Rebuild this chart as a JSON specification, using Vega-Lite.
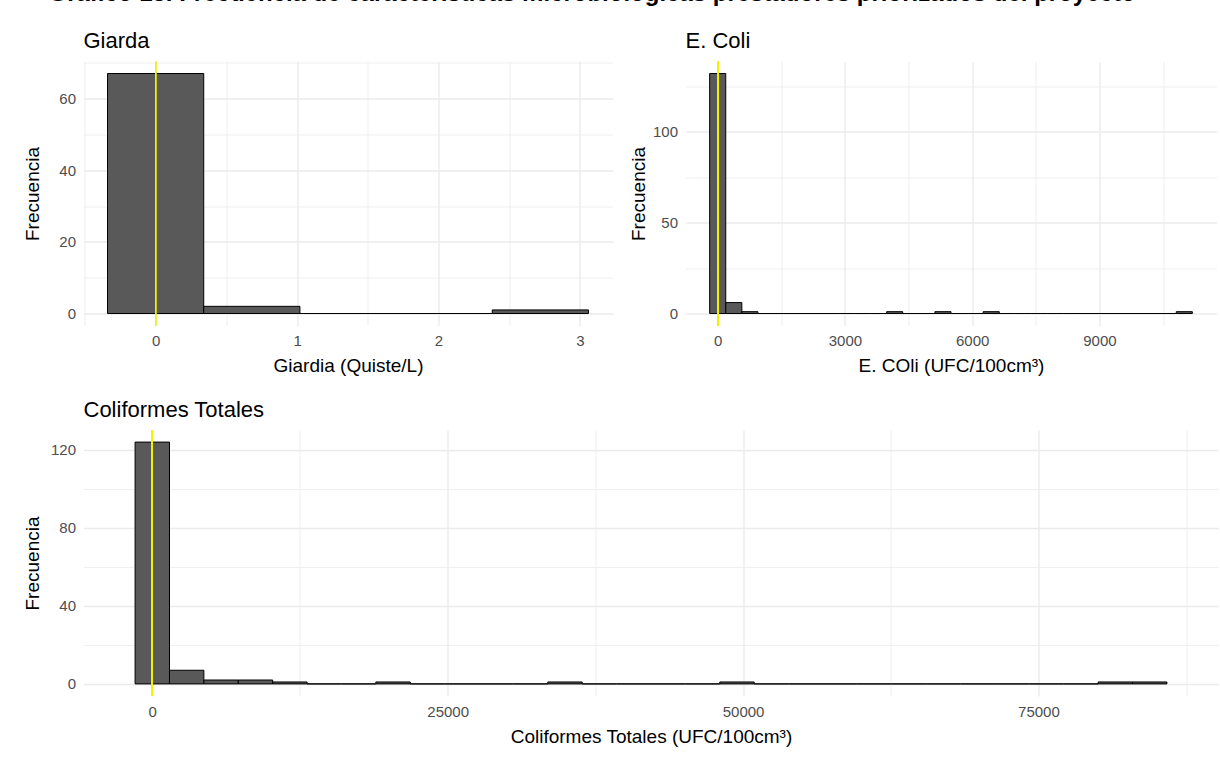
{
  "$schema": "https://vega.github.io/schema/vega-lite/v6.json",
  "background": "white",
  "padding": {"left": 23.5, "top": -18.5, "right": 2, "bottom": 2},
  "title": {"text": "Gráfico 13. Frecuencia de características microbiológicas prestadores priorizados del proyecto", "fontSize": 24, "fontWeight": "bold", "anchor": "middle", "baseline": "alphabetic", "offset": 5.5, "dx": -29, "color": "black", "frame": "bounds"},
  "config": {
    "font": "Liberation Sans",
    "view": {"stroke": null},
    "axis": {"domain": false, "ticks": false, "tickSize": 0, "labelColor": "#4D4D4D", "labelFontSize": 15, "labelPadding": 8, "titleFontSize": 19, "titleFontWeight": "normal", "titleColor": "black", "titlePadding": 8, "gridColor": "#EBEBEB", "gridWidth": 1.4},
    "title": {"anchor": "start", "fontSize": 22, "fontWeight": "normal", "baseline": "alphabetic", "offset": 7.5, "frame": "group", "color": "black"}
  },
  "spacing": 22.5,
  "vconcat": [
    {
      "spacing": 16,
      "hconcat": [
        {
          "width": 529, "height": 264,
          "title": "Giarda",
          "data": {"values": [
            {"lo": -0.34, "hi": 0.34, "n": 67},
            {"lo": 0.34, "hi": 1.02, "n": 2},
            {"lo": 1.02, "hi": 1.7, "n": 0},
            {"lo": 1.7, "hi": 2.38, "n": 0},
            {"lo": 2.38, "hi": 3.06, "n": 1}
          ]},
          "resolve": {"axis": {"x": "independent", "y": "independent"}},
          "layer": [
            {
              "mark": {"type": "rect", "fill": "#595959", "stroke": "black", "strokeWidth": 1},
              "encoding": {
                "x": {"field": "lo", "type": "quantitative", "scale": {"domain": [-0.51, 3.23], "nice": false, "zero": false}, "axis": {"values": [0, 1, 2, 3], "title": "Giardia (Quiste/L)", "grid": true}},
                "x2": {"field": "hi"},
                "y": {"field": "n", "type": "quantitative", "scale": {"domain": [-3.35, 70.35], "nice": false, "zero": false}, "axis": {"values": [0, 20, 40, 60], "title": "Frecuencia", "titleX": -41, "grid": true}},
                "y2": {"datum": 0}
              }
            },
            {
              "mark": {"type": "rule", "color": "#F2F200", "strokeWidth": 1.2},
              "encoding": {
                "x": {"datum": 0, "type": "quantitative", "axis": {"orient": "top", "values": [-0.5, 0.5, 1.5, 2.5], "labels": false, "title": null, "grid": true, "gridWidth": 0.8}}
              }
            },
            {
              "mark": {"type": "rule", "opacity": 0},
              "encoding": {
                "y": {"datum": 0, "type": "quantitative", "axis": {"orient": "right", "values": [10, 30, 50, 70], "labels": false, "title": null, "grid": true, "gridWidth": 0.8}}
              }
            }
          ]
        },
        {
          "width": 531, "height": 264,
          "title": "E. Coli",
          "data": {"values": [
            {"lo": -189.66, "hi": 189.66, "n": 132},
            {"lo": 189.66, "hi": 568.97, "n": 6},
            {"lo": 568.97, "hi": 948.28, "n": 1},
            {"lo": 948.28, "hi": 1327.59, "n": 0},
            {"lo": 1327.59, "hi": 1706.9, "n": 0},
            {"lo": 1706.9, "hi": 2086.21, "n": 0},
            {"lo": 2086.21, "hi": 2465.52, "n": 0},
            {"lo": 2465.52, "hi": 2844.83, "n": 0},
            {"lo": 2844.83, "hi": 3224.14, "n": 0},
            {"lo": 3224.14, "hi": 3603.45, "n": 0},
            {"lo": 3603.45, "hi": 3982.76, "n": 0},
            {"lo": 3982.76, "hi": 4362.07, "n": 1},
            {"lo": 4362.07, "hi": 4741.38, "n": 0},
            {"lo": 4741.38, "hi": 5120.69, "n": 0},
            {"lo": 5120.69, "hi": 5500, "n": 1},
            {"lo": 5500, "hi": 5879.31, "n": 0},
            {"lo": 5879.31, "hi": 6258.62, "n": 0},
            {"lo": 6258.62, "hi": 6637.93, "n": 1},
            {"lo": 6637.93, "hi": 7017.24, "n": 0},
            {"lo": 7017.24, "hi": 7396.55, "n": 0},
            {"lo": 7396.55, "hi": 7775.86, "n": 0},
            {"lo": 7775.86, "hi": 8155.17, "n": 0},
            {"lo": 8155.17, "hi": 8534.48, "n": 0},
            {"lo": 8534.48, "hi": 8913.79, "n": 0},
            {"lo": 8913.79, "hi": 9293.1, "n": 0},
            {"lo": 9293.1, "hi": 9672.41, "n": 0},
            {"lo": 9672.41, "hi": 10051.72, "n": 0},
            {"lo": 10051.72, "hi": 10431.03, "n": 0},
            {"lo": 10431.03, "hi": 10810.34, "n": 0},
            {"lo": 10810.34, "hi": 11189.66, "n": 1}
          ]},
          "resolve": {"axis": {"x": "independent", "y": "independent"}},
          "layer": [
            {
              "mark": {"type": "rect", "fill": "#595959", "stroke": "black", "strokeWidth": 1},
              "encoding": {
                "x": {"field": "lo", "type": "quantitative", "scale": {"domain": [-759, 11759], "nice": false, "zero": false}, "axis": {"values": [0, 3000, 6000, 9000], "format": "d", "title": "E. COli (UFC/100cm³)", "grid": true}},
                "x2": {"field": "hi"},
                "y": {"field": "n", "type": "quantitative", "scale": {"domain": [-6.6, 138.6], "nice": false, "zero": false}, "axis": {"values": [0, 50, 100], "title": "Frecuencia", "titlePadding": 4, "grid": true}},
                "y2": {"datum": 0}
              }
            },
            {
              "mark": {"type": "rule", "color": "#F2F200", "strokeWidth": 1.2},
              "encoding": {
                "x": {"datum": 0, "type": "quantitative", "axis": {"orient": "top", "values": [1500, 4500, 7500, 10500], "labels": false, "title": null, "grid": true, "gridWidth": 0.8}}
              }
            },
            {
              "mark": {"type": "rule", "opacity": 0},
              "encoding": {
                "y": {"datum": 0, "type": "quantitative", "axis": {"orient": "right", "values": [25, 75, 125], "labels": false, "title": null, "grid": true, "gridWidth": 0.8}}
              }
            }
          ]
        }
      ]
    },
    {
      "width": 1135, "height": 266,
      "title": "Coliformes Totales",
      "data": {"values": [
        {"lo": -1455.5, "hi": 1455.5, "n": 124},
        {"lo": 1455.5, "hi": 4366.5, "n": 7},
        {"lo": 4366.5, "hi": 7277.5, "n": 2},
        {"lo": 7277.5, "hi": 10188.5, "n": 2},
        {"lo": 10188.5, "hi": 13099.5, "n": 1},
        {"lo": 13099.5, "hi": 16010.5, "n": 0},
        {"lo": 16010.5, "hi": 18921.5, "n": 0},
        {"lo": 18921.5, "hi": 21832.5, "n": 1},
        {"lo": 21832.5, "hi": 24743.5, "n": 0},
        {"lo": 24743.5, "hi": 27654.5, "n": 0},
        {"lo": 27654.5, "hi": 30565.5, "n": 0},
        {"lo": 30565.5, "hi": 33476.5, "n": 0},
        {"lo": 33476.5, "hi": 36387.5, "n": 1},
        {"lo": 36387.5, "hi": 39298.5, "n": 0},
        {"lo": 39298.5, "hi": 42209.5, "n": 0},
        {"lo": 42209.5, "hi": 45120.5, "n": 0},
        {"lo": 45120.5, "hi": 48031.5, "n": 0},
        {"lo": 48031.5, "hi": 50942.5, "n": 1},
        {"lo": 50942.5, "hi": 53853.5, "n": 0},
        {"lo": 53853.5, "hi": 56764.5, "n": 0},
        {"lo": 56764.5, "hi": 59675.5, "n": 0},
        {"lo": 59675.5, "hi": 62586.5, "n": 0},
        {"lo": 62586.5, "hi": 65497.5, "n": 0},
        {"lo": 65497.5, "hi": 68408.5, "n": 0},
        {"lo": 68408.5, "hi": 71319.5, "n": 0},
        {"lo": 71319.5, "hi": 74230.5, "n": 0},
        {"lo": 74230.5, "hi": 77141.5, "n": 0},
        {"lo": 77141.5, "hi": 80052.5, "n": 0},
        {"lo": 80052.5, "hi": 82963.5, "n": 1},
        {"lo": 82963.5, "hi": 85874.5, "n": 1}
      ]},
      "resolve": {"axis": {"x": "independent", "y": "independent"}},
      "layer": [
        {
          "mark": {"type": "rect", "fill": "#595959", "stroke": "black", "strokeWidth": 1},
          "encoding": {
            "x": {"field": "lo", "type": "quantitative", "scale": {"domain": [-5822, 90240], "nice": false, "zero": false}, "axis": {"values": [0, 25000, 50000, 75000], "format": "d", "title": "Coliformes Totales (UFC/100cm³)", "grid": true}},
            "x2": {"field": "hi"},
            "y": {"field": "n", "type": "quantitative", "scale": {"domain": [-6.2, 130.2], "nice": false, "zero": false}, "axis": {"values": [0, 40, 80, 120], "title": "Frecuencia", "titleX": -41, "grid": true}},
            "y2": {"datum": 0}
          }
        },
        {
          "mark": {"type": "rule", "color": "#F2F200", "strokeWidth": 1.2},
          "encoding": {
            "x": {"datum": 0, "type": "quantitative", "axis": {"orient": "top", "values": [12500, 37500, 62500, 87500], "labels": false, "title": null, "grid": true, "gridWidth": 0.8}}
          }
        },
        {
          "mark": {"type": "rule", "opacity": 0},
          "encoding": {
            "y": {"datum": 0, "type": "quantitative", "axis": {"orient": "right", "values": [20, 60, 100], "labels": false, "title": null, "grid": true, "gridWidth": 0.8}}
          }
        }
      ]
    }
  ]
}
